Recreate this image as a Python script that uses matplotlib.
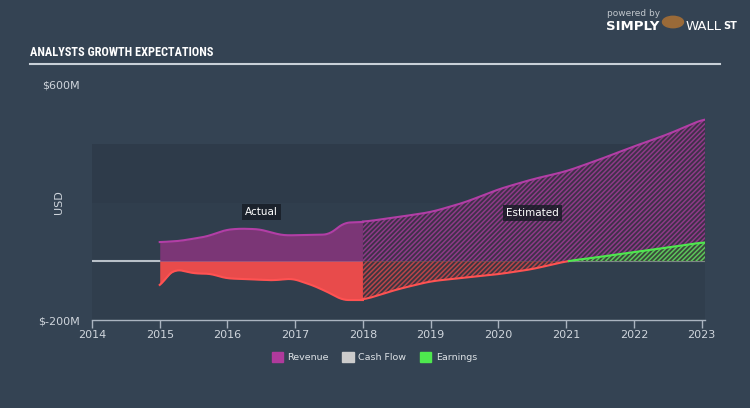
import numpy as np
import matplotlib.pyplot as plt
from matplotlib.patches import Patch
from matplotlib import font_manager

# Revenue / earnings, $M (actual then analyst estimates)
act_years = [2015.0, 2015.29, 2015.69, 2015.98, 2016.18, 2016.47, 2016.76, 2016.86, 2017.5, 2017.6, 2017.72, 2018.0]
act_revenue = [65, 69, 84, 107, 111, 109, 91, 88, 91, 109, 131, 134]

act_earn_years = [2015.0, 2015.1, 2015.24, 2015.44, 2015.54, 2015.74, 2015.98, 2016.28, 2016.66, 2016.96, 2017.26, 2017.5, 2017.7, 2018.0]
act_earnings = [-90, -50, -27, -38, -42, -42, -58, -61, -65, -59, -82, -107, -132, -132]

est_years = [2018.0, 2018.5, 2019.0, 2019.5, 2020.0, 2020.5, 2021.0, 2021.5, 2022.0, 2022.5, 2023.05]
est_revenue = [134, 150, 167, 200, 245, 279, 306, 347, 391, 432, 486]
est_earnings = [-132, -96, -68, -56, -44, -27, 0, 15, 31, 47, 65]

x_ticks = [2014, 2015, 2016, 2017, 2018, 2019, 2020, 2021, 2022, 2023]

bg = '#344353'
txt = '#cfd5dc'
rev_fill = '#7b3676'
rev_line = '#b23ea6'
earn_fill = '#e84b4b'
earn_line = '#ff5252'
green_line = '#4ee84e'

# pick a narrow font for the header if one is installed
installed = {f.name for f in font_manager.fontManager.ttflist}
title_font = 'DejaVu Sans'
for cand in ['Roboto Condensed', 'Liberation Sans Narrow', 'Open Sans Condensed', 'Roboto']:
    if cand in installed:
        title_font = cand
        break
title_size = 8.8 if 'Condensed' in title_font or 'Narrow' in title_font else 8.3

plt.rcParams['hatch.linewidth'] = 1.1

fig = plt.figure(figsize=(7.5, 4.08), dpi=100, facecolor=bg)
ax = fig.add_axes([92 / 750, 1 - 320 / 408, (705 - 92) / 750, (320 - 85) / 408])
ax.set_facecolor('none')
ax.set_xlim(2014, 2023.05)
ax.set_ylim(-200, 600)

# background bands
ax.axhspan(200, 400, color='#2e3b4a', zorder=0, lw=0)
ax.axhspan(-200, 200, color='#303e4d', zorder=0, lw=0)

# cash flow (flat at zero)
ax.plot([2014, 2023.05], [0, 0], color='#b8c0c8', lw=1.5, zorder=1)

# smooth helper for display
def smooth(xs, ys, n=300):
    xs = np.asarray(xs, float)
    ys = np.asarray(ys, float)
    xx = np.linspace(xs[0], xs[-1], n)
    yy = np.interp(xx, xs, ys)
    k = 9
    pad = np.pad(yy, k, mode='edge')
    yy = np.convolve(pad, np.ones(2 * k + 1) / (2 * k + 1), mode='same')[k:-k]
    return xx, yy

# actual
rx, ry = smooth(act_years, act_revenue)
ax.fill_between(rx, 0, ry, color=rev_fill, lw=0, zorder=2)
ax.plot(rx, ry, color=rev_line, lw=1.5, zorder=3)
ex, ey = smooth(act_earn_years, act_earnings)
ax.fill_between(ex, 0, ey, color=earn_fill, lw=0, zorder=2)
ax.plot(ex, ey, color=earn_line, lw=1.5, zorder=3)

# estimated (hatched)
sx, sy = smooth(est_years, est_revenue)
ax.fill_between(sx, 0, sy, facecolor='#3f3049', edgecolor='#8e3a88', hatch='///////', lw=0, zorder=2)
ax.plot(sx, sy, color=rev_line, lw=1.5, zorder=3)
gx, gy = smooth(est_years, est_earnings)
ax.fill_between(gx, 0, gy, where=gy <= 0, interpolate=True, facecolor='#3d3540',
                edgecolor='#b8454a', hatch='///////', lw=0, zorder=2)
ax.fill_between(gx, 0, gy, where=gy >= 0, interpolate=True, facecolor='#3a4a3a',
                edgecolor='#5cc55c', hatch='///////', lw=0, zorder=2)
neg = gy <= 0.5
ax.plot(gx[neg], gy[neg], color=earn_line, lw=1.5, zorder=3)
ax.plot(gx[~neg], gy[~neg], color=green_line, lw=1.5, zorder=3)

# labels inside plot
box = dict(boxstyle='square,pad=0.3', facecolor='#161b24', edgecolor='none', alpha=0.8)
ax.text(2016.5, 167, 'Actual', color='white', fontsize=7.5, ha='center', va='center', bbox=box, zorder=5)
ax.text(2020.5, 163, 'Estimated', color='white', fontsize=7.5, ha='center', va='center', bbox=box, zorder=5)

# axes styling
for s in ['top', 'right', 'left']:
    ax.spines[s].set_visible(False)
ax.spines['bottom'].set_color('#aab4c0')
ax.spines['bottom'].set_linewidth(1)
ax.set_xticks(x_ticks)
ax.set_xticklabels([str(y) for y in x_ticks])
ax.tick_params(axis='x', colors='#aab4c0', labelcolor=txt, labelsize=8, length=6, width=1, pad=1)
ax.set_yticks([-200, 600])
ax.set_yticklabels(['$-200M', '$600M'])
ax.tick_params(axis='y', length=0, labelcolor=txt, labelsize=8, pad=9)
ax.set_ylabel('USD', color=txt, fontsize=8)
ax.yaxis.set_label_coords(-0.046, 0.5)

# header
fig.text(30 / 750, 1 - 52 / 408, 'ANALYSTS GROWTH EXPECTATIONS', color='white', fontsize=title_size,
         fontweight='bold', family=title_font, va='center', ha='left')
fig.add_artist(plt.Line2D([30 / 750, 720 / 750], [1 - 64 / 408] * 2, color='#c8d0d8', lw=1.5))
fig.text(607 / 750, 1 - 14 / 408, 'powered by', color='#c0c6cc', fontsize=6.5, va='center')
fig.text(606 / 750, 1 - 27 / 408, 'SIMPLY', color='white', fontsize=9.5, fontweight='bold', va='center')
fig.text(686 / 750, 1 - 27 / 408, 'WALL', color='white', fontsize=9.5, va='center')
fig.text(723 / 750, 1 - 26 / 408, 'ST', color='white', fontsize=7, fontweight='bold', va='center')
fig.patches.append(plt.Circle((673 / 750, 1 - 22 / 408), 0.014, transform=fig.transFigure,
                              color='#9a6a38', figure=fig))

# legend
handles = [Patch(color='#b03a9c', label='Revenue'),
           Patch(color='#cccccc', label='Cash Flow'),
           Patch(color='#4ee84e', label='Earnings')]
leg = fig.legend(handles=handles, loc='center', bbox_to_anchor=(0.499, 1 - 357 / 408), ncol=3,
                 frameon=False, fontsize=6.8, handlelength=1.2, handleheight=1.2,
                 columnspacing=1.4, handletextpad=0.5)
for t in leg.get_texts():
    t.set_color('#dde2e6')

fig.savefig('out.png', dpi=100, facecolor=bg)
